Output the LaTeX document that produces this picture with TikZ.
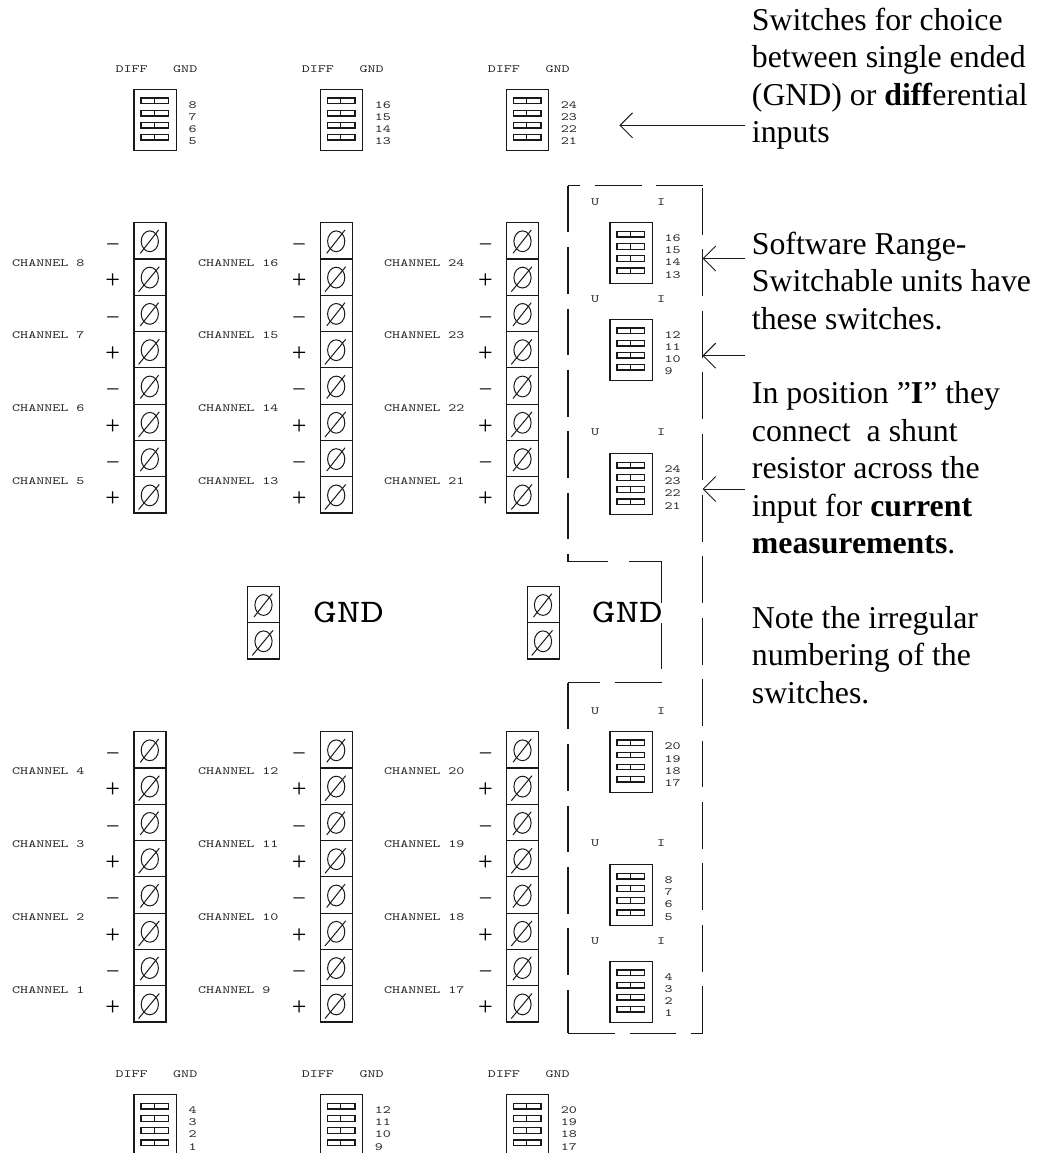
\documentclass[tikz,border=0pt]{standalone}
\usepackage{fontspec}
\setmainfont{Liberation Serif}
\newfontfamily\wideft[FakeStretch=1.39]{Latin Modern Mono}
\usetikzlibrary{arrows.meta}
\tikzset{
  x=1pt,y=-1pt,
  ln/.style={line width=1.2pt,black!90},
  lab/.style={inner sep=0pt,anchor=west,text=black!85,font=\wideft\fontsize{11}{11}\selectfont},
  biglab/.style={inner sep=0pt,anchor=west,text=black,font=\wideft\fontsize{33}{33}\selectfont},
  dipbox/.style={ln,draw,rectangle,inner sep=0pt,minimum width=42.3pt,minimum height=61pt,anchor=north west},
  cell/.style={ln,draw,rectangle,inner sep=0pt,minimum width=32pt,minimum height=36.3pt,anchor=north west},
  plussign/.style={inner sep=0pt,anchor=base,font=\fontsize{26}{26}\selectfont},
  minussign/.style={inner sep=0pt,anchor=base,font=\fontsize{22}{22}\selectfont},
  note/.style={inner sep=0pt,anchor=north west,align=left,font=\fontsize{31.8}{37.4}\selectfont},
  dashline/.style={ln,dash pattern=on 46.7pt off 14.7pt},
  pointer/.style={line width=1pt,black!90,-{Straight Barb[length=12.5pt,width=25pt,line width=1pt]}},
}
% name x y n1 n2 n3 n4
\newcommand\dipsw[7]{%
  \node[dipbox] (#1) at (#2,#3) {};
  \foreach \r in {12.2,24.5,36.5,48.7}{
    \draw[ln,line width=1.4pt] (#2+7.7,#3+\r-2.75) rectangle (#2+35.3,#3+\r+2.75);
    \draw[ln] (#2+21,#3+\r-2.75) -- (#2+21,#3+\r+2.75);
  }
  \node[lab] (#1-a) at (#2+55,#3+16) {#4};
  \node[lab] (#1-b) at (#2+55,#3+28.3) {#5};
  \node[lab] (#1-c) at (#2+55,#3+40.5) {#6};
  \node[lab] (#1-d) at (#2+55,#3+52.7) {#7};
}
% screw symbol in a cell with top-left x y; 0 short slash, 1 long slash
\newcommand\screw[3]{%
  \draw[ln,line width=1pt] (#1+16.5,#2+19.3) ellipse [x radius=8.6,y radius=10.4];
  \ifnum#3=0
    \draw[ln,line width=1pt] (#1+7,#2+31.3) -- (#1+25.3,#2+8);
  \else
    \draw[ln,line width=1pt] (#1+5.3,#2+33.4) -- (#1+26,#2+8.4);
  \fi
}
% name x y : 8-cell strip
\newcommand\strip[3]{%
  \foreach \i in {0,...,7}{
    \pgfmathsetmacro\cy{#3+36.3*\i}
    \pgfmathtruncatemacro\odd{mod(\i,2)}
    \node[cell] (#1-\i) at (#2,\cy) {};
    \screw{#2}{\cy}{\odd}
    \ifnum\odd=0
      \node[minussign] (#1-s\i) at (#2-20.5,\cy+27.5) {–};
    \else
      \node[plussign] (#1-s\i) at (#2-20.5,\cy+30.6) {+};
    \fi
  }
}
\newcommand\dgpair[3]{%
  \node[lab] (#1-p) at (#2-18,#3-20) {DIFF};
  \node[lab] (#1-q) at (#2+39.7,#3-20) {GND};
}
\newcommand\uipair[2]{%
  \node[lab] (#1-u) at (591,#2) {U};
  \node[lab] (#1-i) at (657,#2) {I};
}
\begin{document}
\begin{tikzpicture}
\useasboundingbox (0,0) rectangle (1042,1153);
\clip (0,0) rectangle (1042,1153);

% top DIFF/GND switches
\dgpair{ta}{133.3}{89}\dipsw{sa}{133.3}{88.7}{8}{7}{6}{5}
\dgpair{tb}{319.7}{89}\dipsw{sb}{319.7}{88.7}{16}{15}{14}{13}
\dgpair{tc}{505.7}{89}\dipsw{sc}{505.7}{88.7}{24}{23}{22}{21}
% bottom DIFF/GND switches
\dgpair{ba}{133.3}{1094}\dipsw{sd}{133.3}{1094}{4}{3}{2}{1}
\dgpair{bb}{319.7}{1094}\dipsw{se}{319.7}{1094}{12}{11}{10}{9}
\dgpair{bc}{505.7}{1094}\dipsw{sf}{505.7}{1094}{20}{19}{18}{17}

% terminal strips
\strip{ua}{133.3}{222}
\strip{ub}{319.7}{222}
\strip{uc}{506}{222}
\strip{la}{133.3}{731}
\strip{lb}{319.7}{731}
\strip{lc}{506}{731}

% channel labels
\node[lab] (c8) at (12,263) {CHANNEL 8};
\node[lab] (c7) at (12,335.6) {CHANNEL 7};
\node[lab] (c6) at (12,408) {CHANNEL 6};
\node[lab] (c5) at (12,481) {CHANNEL 5};
\node[lab] (c16) at (198,263) {CHANNEL 16};
\node[lab] (c15) at (198,335.6) {CHANNEL 15};
\node[lab] (c14) at (198,408) {CHANNEL 14};
\node[lab] (c13) at (198,481) {CHANNEL 13};
\node[lab] (c24) at (384,263) {CHANNEL 24};
\node[lab] (c23) at (384,335.6) {CHANNEL 23};
\node[lab] (c22) at (384,408) {CHANNEL 22};
\node[lab] (c21) at (384,481) {CHANNEL 21};
\node[lab] (c4) at (12,771.5) {CHANNEL 4};
\node[lab] (c3) at (12,844) {CHANNEL 3};
\node[lab] (c2) at (12,917) {CHANNEL 2};
\node[lab] (c1) at (12,990) {CHANNEL 1};
\node[lab] (c12) at (198,771.5) {CHANNEL 12};
\node[lab] (c11) at (198,844) {CHANNEL 11};
\node[lab] (c10) at (198,917) {CHANNEL 10};
\node[lab] (c9) at (198,990) {CHANNEL 9};
\node[lab] (c20) at (384,771.5) {CHANNEL 20};
\node[lab] (c19) at (384,844) {CHANNEL 19};
\node[lab] (c18) at (384,917) {CHANNEL 18};
\node[lab] (c17) at (384,990) {CHANNEL 17};

% GND terminals
\node[cell] (ga1) at (247,585.7) {};
\node[cell] (ga2) at (247,622) {};
\screw{247}{585.7}{0}\screw{247}{622}{1}
\node[biglab] (gndA) at (313,612) {GND};
\node[cell] (gb1) at (526.5,585.7) {};
\node[cell] (gb2) at (526.5,622) {};
\screw{526.5}{585.7}{0}\screw{526.5}{622}{1}
\node[biglab] (gndB) at (591.7,612) {GND};

% range switches
\uipair{ua}{202}\dipsw{ra}{609.3}{222}{16}{15}{14}{13}
\uipair{ub}{299}\dipsw{rb}{609.3}{318.7}{12}{11}{10}{9}
\uipair{uc}{432}\dipsw{rc}{609.3}{453}{24}{23}{22}{21}
\uipair{ud}{711}\dipsw{rd}{609.3}{730.5}{20}{19}{18}{17}
\uipair{ue}{843}\dipsw{re}{609.3}{864}{8}{7}{6}{5}
\uipair{uf}{941}\dipsw{rf}{609.3}{960.7}{4}{3}{2}{1}

% dashed outline
\draw[dashline] (702.7,188) -- (702.7,1033);
\draw[dashline] (568,185.7) -- (568,561.3) -- (614.5,561.3);
\draw[ln] (629.3,561.3) -- (661.7,561.3) -- (661.7,603);
\draw[ln] (661.7,623.3) -- (661.7,669);
\draw[ln] (661.7,682.7) -- (615,682.7);
\draw[ln] (600,682.7) -- (568,682.7);
\draw[dashline] (568,682.7) -- (568,1033.3);
\draw[ln] (568,1033.3) -- (614.7,1033.3);
\draw[ln] (629.7,1033.3) -- (676,1033.3);
\draw[ln] (691,1033.3) -- (702.7,1033.3);
\draw[ln] (568,185.7) -- (580,185.7);
\draw[ln] (595,185.7) -- (641.7,185.7);
\draw[ln] (656,185.7) -- (702.7,185.7);

% explanatory text
\node[note] (noteA) at (751.7,8) {Switches for choice\\between single ended\\(GND) or \textbf{diff}erential\\inputs};
\node[note] (noteB) at (751.7,232) {Software Range-\\Switchable units have\\these switches.};
\node[note] (noteC) at (751.7,381.6) {In position ”\textbf{I}” they\\connect\ \ a shunt\\resistor across the\\input for \textbf{current}\\\textbf{measurements}.};
\node[note] (noteD) at (751.7,606) {Note the irregular\\numbering of the\\switches.};

% pointers
\coordinate (p1s) at (745,125.3);\coordinate (p1t) at (619.3,125.3);
\coordinate (p2s) at (744.5,258.5);\coordinate (p2t) at (702.5,258.5);
\coordinate (p3s) at (744.5,355.7);\coordinate (p3t) at (702.5,355.7);
\coordinate (p4s) at (744.5,489);\coordinate (p4t) at (702.5,489);
\draw[pointer] (p1s) -- (p1t);
\draw[pointer] (p2s) -- (p2t);
\draw[pointer] (p3s) -- (p3t);
\draw[pointer] (p4s) -- (p4t);
\end{tikzpicture}
\end{document}
